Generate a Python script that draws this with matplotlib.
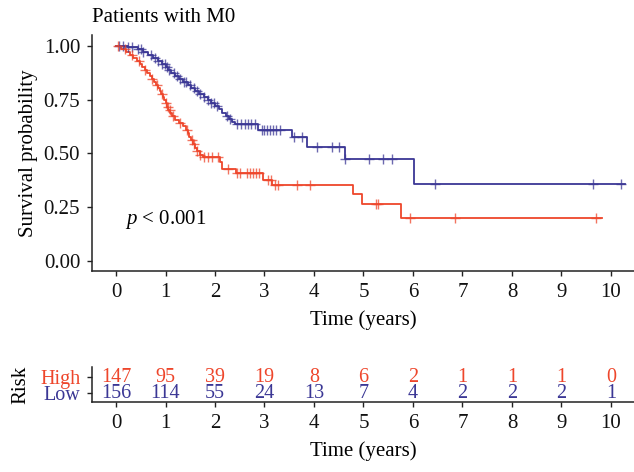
import numpy as np
import matplotlib
matplotlib.use("Agg")
import matplotlib.pyplot as plt

plt.rcParams["font.family"] = ["Liberation Serif", "DejaVu Serif"]
plt.rcParams["mathtext.fontset"] = "custom"
plt.rcParams["mathtext.it"] = "Liberation Serif:italic"

# Kaplan-Meier step data (time in years, survival after the step)
high_times = [0.0, 0.10, 0.20, 0.28, 0.35, 0.42, 0.48, 0.53, 0.58, 0.63, 0.68,
              0.72, 0.76, 0.80, 0.84, 0.88, 0.91, 0.94, 0.97, 1.00, 1.03, 1.06,
              1.10, 1.14, 1.20, 1.27, 1.35, 1.41, 1.45, 1.48, 1.51, 1.55, 1.59,
              1.64, 1.70, 1.76, 2.10, 2.14, 2.42, 2.97, 3.15, 4.79, 4.96, 5.76]
high_surv = [1.0, 0.986, 0.972, 0.958, 0.944, 0.930, 0.916, 0.902, 0.888, 0.874,
             0.860, 0.846, 0.832, 0.818, 0.804, 0.790, 0.776, 0.762, 0.748, 0.733,
             0.718, 0.703, 0.688, 0.673, 0.658, 0.643, 0.627, 0.611, 0.595, 0.578,
             0.561, 0.544, 0.527, 0.510, 0.493, 0.483, 0.460, 0.428, 0.410, 0.378,
             0.353, 0.310, 0.265, 0.200]
high_end = 9.82
high_censor = [0.04, 0.18, 0.32, 0.46, 0.59, 0.73, 0.83, 0.93, 1.01, 1.05, 1.09,
               1.15, 1.29, 1.43, 1.53, 1.58, 1.64, 1.70, 1.78, 1.86, 1.94, 2.06,
               2.26, 2.44, 2.50, 2.65, 2.70, 2.76, 2.82, 2.88, 3.07, 3.14, 3.22,
               3.27, 3.65, 3.92, 5.25, 5.30, 5.94, 6.85, 9.70]

low_times = [0.0, 0.25, 0.45, 0.55, 0.65, 0.75, 0.85, 0.92, 1.00, 1.05, 1.12,
             1.20, 1.28, 1.36, 1.45, 1.52, 1.60, 1.68, 1.78, 1.86, 1.92, 2.00,
             2.08, 2.15, 2.22, 2.28, 2.34, 2.40, 2.87, 3.55, 3.86, 4.63, 6.03]
low_surv = [1.0, 0.993, 0.986, 0.972, 0.958, 0.944, 0.930, 0.916, 0.902, 0.888,
            0.874, 0.860, 0.846, 0.832, 0.818, 0.804, 0.790, 0.776, 0.762, 0.748,
            0.734, 0.720, 0.705, 0.690, 0.675, 0.660, 0.648, 0.635, 0.607, 0.575,
            0.530, 0.474, 0.357]
low_end = 10.28
low_censor = [0.06, 0.15, 0.25, 0.33, 0.45, 0.50, 0.55, 0.70, 0.78, 0.85, 0.93,
              0.98, 1.03, 1.08, 1.18, 1.24, 1.30, 1.37, 1.42, 1.50, 1.58, 1.63,
              1.70, 1.78, 1.86, 1.92, 1.98, 2.04, 2.24, 2.30, 2.44, 2.52, 2.60,
              2.66, 2.72, 2.80, 2.95, 3.00, 3.06, 3.12, 3.18, 3.24, 3.31, 3.60,
              3.75, 4.06, 4.36, 4.50, 4.63, 5.11, 5.39, 5.57, 6.45, 9.64, 10.20]

# Number at risk
risk_years = list(range(11))
high_at_risk = [147, 95, 39, 19, 8, 6, 2, 1, 1, 1, 0]
low_at_risk = [156, 114, 55, 24, 13, 7, 4, 2, 2, 2, 1]

groups = ["High", "Low"]
colors = {"High": "#EE462B", "Low": "#3B3795"}

W, H = 634, 472
fig = plt.figure(figsize=(W / 100, H / 100), dpi=100)

FS = 15
TABLE_FS = 14.5
xlim = (-0.485, 10.465)
spine_col = "#222222"


def style_axes(ax):
    for s in ("top", "right"):
        ax.spines[s].set_visible(False)
    for s in ("left", "bottom"):
        ax.spines[s].set_linewidth(1.1)
        ax.spines[s].set_color(spine_col)
    ax.tick_params(length=3.5, width=1.0, color=spine_col, labelsize=FS,
                   labelcolor="#111111", pad=5)


def surv_at(times, surv, t):
    idx = np.searchsorted(np.asarray(times), np.asarray(t), side="right") - 1
    return np.asarray(surv)[idx]


# --- survival curves ---
ax = fig.add_axes([92 / W, (H - 271) / H, (W - 92) / W, (271 - 35) / H])
style_axes(ax)

curves = {
    "High": (high_times, high_surv, high_end, high_censor),
    "Low": (low_times, low_surv, low_end, low_censor),
}
for g in ["Low", "High"]:
    t, s, end, cens = curves[g]
    tx = list(t) + [end]
    sy = list(s) + [s[-1]]
    ax.step(tx, sy, where="post", color=colors[g], lw=1.3, zorder=3)
    ax.plot(cens, surv_at(t, s, cens), ls="none", marker="+", ms=7.5, mew=1.0,
            color=colors[g], alpha=0.75, zorder=4)

ax.set_xlim(*xlim)
ax.set_ylim(-0.0465, 1.051)
ax.set_xticks(risk_years)
ax.set_yticks([0, 0.25, 0.5, 0.75, 1.0])
ax.set_yticklabels(["0.00", "0.25", "0.50", "0.75", "1.00"])
ax.set_xlabel("Time (years)", fontsize=FS, labelpad=6)
ax.set_ylabel("Survival probability", fontsize=FS, labelpad=4)
ax.text(0.18, 0.195, r"$p$ < 0.001", fontsize=FS, va="center", ha="left")
fig.text(92 / W, 1 - 17 / H, "Patients with M0", fontsize=FS, va="center",
         ha="left")

# --- risk table ---
rt = fig.add_axes([92 / W, (H - 402) / H, (W - 92) / W, (402 - 367) / H])
style_axes(rt)
rt.set_xlim(*xlim)
rt.set_ylim(0.4375, 2.625)
rt.set_xticks(risk_years)
row_y = {"High": 2, "Low": 1}
rt.set_yticks([row_y[g] for g in groups])
rt.set_yticklabels(groups, fontsize=TABLE_FS)
for lab, g in zip(rt.get_yticklabels(), groups):
    lab.set_color(colors[g])
for g, counts in (("High", high_at_risk), ("Low", low_at_risk)):
    for x, n in zip(risk_years, counts):
        rt.text(x, row_y[g], str(n), color=colors[g], fontsize=TABLE_FS,
                ha="center", va="center")
rt.set_xlabel("Time (years)", fontsize=FS, labelpad=6)
rt.set_ylabel("Risk", fontsize=FS, labelpad=7)

fig.savefig("out.png", dpi=100)
